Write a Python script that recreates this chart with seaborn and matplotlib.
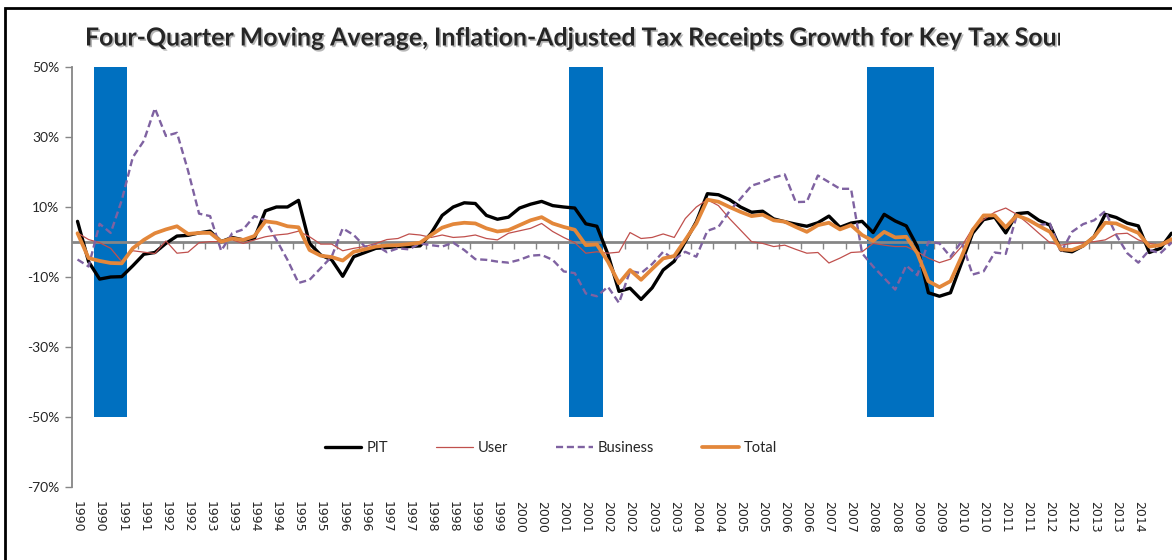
import numpy as np
import pandas as pd
import matplotlib
matplotlib.use("Agg")
import matplotlib.pyplot as plt
import matplotlib.patheffects as pe
from matplotlib.patches import Rectangle
from matplotlib.transforms import Bbox
import seaborn as sns

# quarterly data, 1990 Q1 onwards (percent, four-quarter moving average growth)
years = [1990 + q // 4 for q in range(100)]

pit = [5.9, -5.6, -10.6, -10.0, -9.9, -6.8, -3.5, -3.0, -0.4, 1.7,
       1.9, 2.6, 3.1, 0.1, 1.3, 0.6, 1.0, 8.9, 10.0, 10.0,
       11.9, -0.4, -3.7, -5.1, -9.8, -4.2, -3.0, -1.8, -1.6, -1.3,
       -1.3, -1.1, 2.5, 7.6, 10.0, 11.2, 11.0, 7.6, 6.5, 7.1,
       9.7, 10.8, 11.6, 10.4, 10.0, 9.7, 5.2, 4.5, -3.5, -14.1,
       -13.2, -16.4, -13.1, -8.0, -5.5, 0.1, 5.8, 13.8, 13.5, 12.1,
       10.0, 8.5, 8.8, 6.6, 5.8, 5.1, 4.5, 5.5, 7.4, 4.2,
       5.4, 5.9, 2.7, 7.9, 6.0, 4.6, -1.3, -14.5, -15.5, -14.5,
       -6.0, 2.5, 6.4, 7.1, 2.6, 8.1, 8.4, 6.2, 4.8, -2.3,
       -2.8, -1.1, 1.5, 7.9, 7.0, 5.4, 4.6, -3.0, -1.8, 2.5]

user = [2.6, 0.7, -0.2, -1.8, -5.6, -2.5, -2.9, -3.3, 0.3, -3.2,
        -2.9, -0.2, 0.1, 0.1, 0.6, -0.4, 0.6, 1.5, 2.0, 2.3,
        3.1, 1.5, -0.6, -0.6, -2.5, -1.8, -1.3, -0.4, 0.7, 1.0,
        2.3, 2.0, 1.3, 2.0, 1.3, 1.5, 2.0, 1.0, 0.6, 2.5,
        3.2, 3.9, 5.3, 3.0, 1.3, -0.2, -3.2, -2.8, -3.2, -2.9,
        2.7, 1.0, 1.3, 2.3, 1.3, 6.7, 10.0, 12.1, 10.4, 6.7,
        3.4, 0.1, -0.4, -1.3, -0.9, -2.1, -3.2, -3.0, -6.0, -4.6,
        -3.0, -2.8, -0.4, -0.9, -1.3, -1.3, -2.8, -4.6, -5.9, -4.9,
        -1.3, 3.9, 6.4, 8.5, 9.7, 7.9, 5.3, 2.5, -0.2, -0.9,
        -0.4, -0.2, 0.1, 0.6, 2.3, 2.5, 0.6, -0.4, -0.9, -0.2]

business = [-5.0, -7.0, 5.2, 2.6, 11.9, 24.2, 28.9, 38.2, 30.3, 31.2,
            20.4, 8.1, 7.4, -2.5, 2.5, 3.6, 7.4, 6.2, 0.6, -5.1,
            -11.7, -10.8, -7.5, -4.2, 3.9, 2.0, -1.3, -0.9, -2.9, -1.8,
            -2.1, -0.4, -0.9, -1.3, -0.2, -2.3, -4.9, -5.1, -5.6, -5.9,
            -5.1, -3.9, -3.7, -5.1, -8.4, -8.9, -14.7, -15.5, -12.8, -17.4,
            -8.3, -8.9, -6.3, -2.8, -5.0, -2.8, -4.2, 3.2, 4.3, 8.8,
            12.4, 16.1, 17.1, 18.4, 19.3, 11.4, 11.5, 19.0, 17.1, 15.2,
            15.2, -3.2, -7.0, -10.3, -13.6, -6.7, -9.5, 0.1, -0.4, -4.2,
            0.1, -9.3, -8.4, -3.0, -3.4, 7.6, 6.4, 4.8, 5.3, -3.0,
            2.9, 5.1, 6.2, 8.8, 2.0, -3.2, -5.9, -2.3, -3.2, -0.2]

total = [2.5, -4.6, -5.4, -6.0, -6.1, -1.8, 0.6, 2.5, 3.6, 4.5,
         2.3, 2.6, 2.6, 0.1, 1.0, 0.6, 1.7, 5.9, 5.5, 4.5,
         4.2, -2.3, -3.9, -4.3, -5.3, -2.8, -2.1, -1.3, -1.0, -0.9,
         -0.6, -0.2, 2.0, 4.1, 5.1, 5.5, 5.3, 3.9, 3.0, 3.4,
         4.8, 6.2, 7.1, 5.3, 4.3, 3.5, -0.9, -0.7, -5.6, -11.8,
         -8.0, -10.8, -7.7, -4.7, -4.0, 0.6, 5.3, 12.1, 11.5, 10.0,
         8.6, 7.4, 7.8, 6.2, 5.8, 4.3, 2.9, 4.8, 5.5, 3.6,
         4.8, 2.0, 0.3, 2.9, 1.3, 1.5, -3.2, -11.2, -12.9, -11.2,
         -4.2, 3.4, 7.6, 7.6, 4.2, 7.6, 6.4, 4.6, 2.9, -2.1,
         -2.3, -1.1, 1.5, 5.5, 5.3, 3.9, 2.6, -1.3, -0.9, 0.8]

# recession quarters (index from 1990 Q1) and shading range
recession_q = [2, 3, 4, 45, 46, 47, 72, 73, 74, 75, 76, 77]
rec_top, rec_bottom = 50, -50

title = ("Four-Quarter Moving Average, Inflation-Adjusted Tax Receipts "
         "Growth for Key Tax Sources")

df = pd.DataFrame({"q": np.arange(len(pit)), "PIT": pit, "User": user,
                   "Business": business, "Total": total})

sns.set_style("white")
plt.rcParams["font.family"] = ["Lato", "DejaVu Sans"]

W, H = 1172, 560
fig = plt.figure(figsize=(W / 100, H / 100), dpi=100)
n_cat = 102
cat_px = 11.05
ymin, ymax = -70, 50
ax_rect = [72 / W, (H - 487) / H, n_cat * cat_px / W, 420 / H]

grey = "#868686"

# tick marks hanging from the zero line: a flat axes at y = 0, drawn
# underneath the main axes so the recession bars cover them
zero_frac = (0 - ymin) / (ymax - ymin)
zx = fig.add_axes([ax_rect[0], ax_rect[1] + zero_frac * ax_rect[3],
                   ax_rect[2], 1e-6], zorder=0)
zx.set_xlim(-0.5, n_cat - 0.5)
zx.set_xticks(np.arange(1.5, n_cat, 2))
zx.set_xticklabels([])
zx.set_yticks([])
zx.tick_params(axis="x", direction="out", length=5, width=1, color=grey,
               bottom=True, top=False, labelbottom=False)
zx.patch.set_visible(False)
for s in zx.spines.values():
    s.set_visible(False)

ax = fig.add_axes(ax_rect, zorder=1)
ax.patch.set_visible(False)

# recession shading
ax.bar(recession_q, rec_top - rec_bottom, bottom=rec_bottom, width=1.04,
       color="#0070C0", linewidth=0, zorder=1)

ax.axhline(0, color=grey, lw=2.0, zorder=1.6)

sns.lineplot(data=df, x="q", y="PIT", ax=ax, color="black", linewidth=2.4,
             label="PIT", zorder=3)
sns.lineplot(data=df, x="q", y="User", ax=ax, color="#C0504D", linewidth=0.9,
             label="User", zorder=3)
sns.lineplot(data=df, x="q", y="Business", ax=ax, color="#7F62A1",
             linewidth=1.7, linestyle=(0, (3, 1.6)), label="Business", zorder=3)
sns.lineplot(data=df, x="q", y="Total", ax=ax, color="#E3873A", linewidth=2.7,
             label="Total", zorder=3)

ax.set_xlim(-0.5, n_cat - 0.5)
ax.set_ylim(ymin, ymax)
ax.set_xlabel("")
ax.set_ylabel("")

# y axis
yt = list(range(ymin, ymax + 1, 20))
ax.set_yticks(yt)
ax.set_yticklabels([f"{v}%" for v in yt], fontsize=10, family="Lato")
ax.tick_params(axis="y", direction="out", length=5, width=1, color=grey,
               pad=4, left=True)

# x labels (every second quarter)
xt = list(range(0, 97, 2))
ax.set_xticks(xt)
ax.set_xticklabels([str(years[i]) for i in xt], rotation=270,
                   fontsize=9, family="DejaVu Sans", va="top", ha="center")
ax.tick_params(axis="x", length=0, pad=10)

for s in ["top", "right", "bottom"]:
    ax.spines[s].set_visible(False)
ax.spines["left"].set_color(grey)
ax.spines["left"].set_linewidth(1.3)

ax.legend(loc="center", bbox_to_anchor=(0.425, 0.093), ncol=4, frameon=False,
          prop={"family": "Lato", "size": 10.5}, handlelength=2.5,
          columnspacing=3.3, handletextpad=0.35)

# title, cut off like the source
t = fig.text(85 / W, 1 - 38 / H, title, fontsize=17.9, fontweight="bold",
             family="Lato", ha="left", va="center",
             path_effects=[pe.SimplePatchShadow(offset=(1.2, -1.2),
                                                shadow_rgbFace="#888888",
                                                alpha=0.6),
                           pe.Normal()])
t.set_clip_box(Bbox.from_extents(0, 0, 1060, H))
t.set_clip_on(True)

# chart border (left and top visible)
fig.add_artist(Rectangle((5 / W, -0.1), 2, (H - 8) / H + 0.1,
                         transform=fig.transFigure, fill=False,
                         lw=2, ec="black"))

fig.savefig("out.png", dpi=100)
